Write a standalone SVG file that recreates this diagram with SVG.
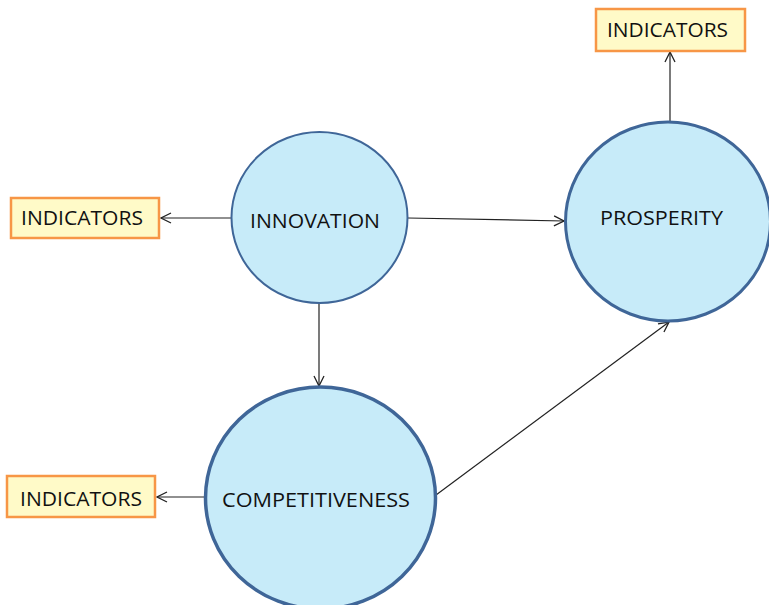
<svg xmlns="http://www.w3.org/2000/svg" width="769" height="605" viewBox="0 0 769 605">
<defs>
<style>
.node{fill:#c7ebf9;stroke:#3f6698}
.box{fill:#fffac8;stroke:#f79646;stroke-width:2.5}
.lbl{font-family:"Open Sans","Liberation Sans",Arial,sans-serif;font-size:20.5px;fill:#111}
.edge{stroke:#222;stroke-width:1.2;fill:none;marker-end:url(#arr)}
</style>
<marker id="arr" viewBox="0 0 12 12" refX="11" refY="6" markerWidth="12" markerHeight="12" markerUnits="userSpaceOnUse" orient="auto">
<path d="M1,1 L11,6 L1,11" fill="none" stroke="#222" stroke-width="1.3"/>
</marker>
</defs>
<rect width="769" height="605" fill="#ffffff"/>
<g id="connectors">
<line class="edge" x1="231" y1="218" x2="161" y2="218"/>
<line class="edge" x1="408" y1="218" x2="564" y2="221"/>
<line class="edge" x1="319" y1="303" x2="319" y2="386"/>
<line class="edge" x1="436" y1="495" x2="669" y2="322"/>
<line class="edge" x1="670" y1="122" x2="670" y2="52"/>
<line class="edge" x1="205" y1="497" x2="157" y2="497"/>
</g>
<g id="innovation">
<ellipse class="node" cx="319.5" cy="217.5" rx="88" ry="85.5" stroke-width="2"/>
<text class="lbl" x="250" y="228" textLength="130" lengthAdjust="spacingAndGlyphs">INNOVATION</text>
</g>
<g id="prosperity">
<ellipse class="node" cx="668" cy="221.5" rx="102.5" ry="99.5" stroke-width="3"/>
<text class="lbl" x="600" y="225" textLength="123" lengthAdjust="spacingAndGlyphs">PROSPERITY</text>
</g>
<g id="competitiveness">
<ellipse class="node" cx="320.5" cy="498" rx="115" ry="111" stroke-width="3.5"/>
<text class="lbl" x="222" y="507" textLength="188" lengthAdjust="spacingAndGlyphs">COMPETITIVENESS</text>
</g>
<g id="indicators-top">
<rect class="box" x="596" y="9" width="149" height="42"/>
<text class="lbl" x="607" y="37" textLength="121" lengthAdjust="spacingAndGlyphs">INDICATORS</text>
</g>
<g id="indicators-left1">
<rect class="box" x="11" y="198" width="148" height="40"/>
<text class="lbl" x="21" y="225" textLength="122" lengthAdjust="spacingAndGlyphs">INDICATORS</text>
</g>
<g id="indicators-left2">
<rect class="box" x="7" y="476" width="148" height="41"/>
<text class="lbl" x="20" y="506" textLength="122" lengthAdjust="spacingAndGlyphs">INDICATORS</text>
</g>
</svg>
